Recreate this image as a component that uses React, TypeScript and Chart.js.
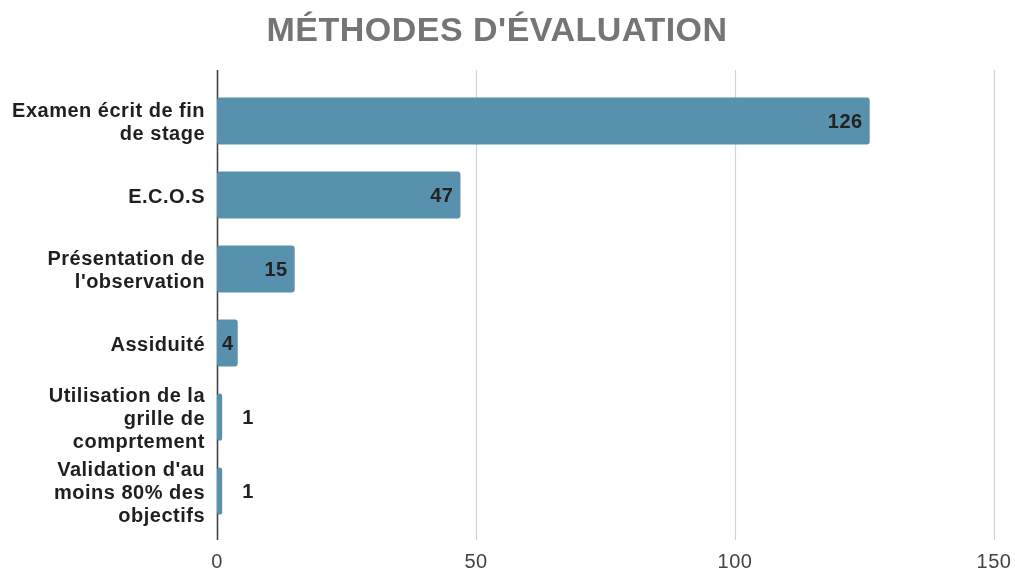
import React, { useEffect, useRef } from "react";
import { Chart, registerables } from "chart.js";

Chart.register(...registerables);

const titleText = "MÉTHODES D'ÉVALUATION";
const categories: string[][] = [
  ["Examen écrit de fin", "de stage"],
  ["E.C.O.S"],
  ["Présentation de", "l'observation"],
  ["Assiduité"],
  ["Utilisation de la", "grille de", "comprtement"],
  ["Validation d'au", "moins 80% des", "objectifs"],
];
const values: number[] = [126, 47, 15, 4, 1, 1];
const xTicks: number[] = [0, 50, 100, 150];

const BAR_COLOR = "#5891ae";
const FAMILY = "'Liberation Sans', Arial, sans-serif";
const LABEL_FONT = `bold 20px ${FAMILY}`;
const SPACING = "0.5px";

const spacingPlugin = {
  id: "letterSpacing",
  beforeUpdate(chart: any) {
    chart.ctx.letterSpacing = SPACING;
  },
  beforeDraw(chart: any) {
    chart.ctx.letterSpacing = SPACING;
  },
};

const gridPlugin = {
  id: "customGrid",
  beforeDatasetsDraw(chart: any) {
    const { ctx, chartArea } = chart;
    const xs = chart.scales.x;
    ctx.save();
    xTicks.forEach((v) => {
      const px = Math.round(xs.getPixelForValue(v)) + 0.5;
      ctx.beginPath();
      ctx.strokeStyle = v === 0 ? "#444444" : "#d3d3d3";
      ctx.lineWidth = v === 0 ? 1.6 : 1.2;
      ctx.moveTo(px, chartArea.top - 14);
      ctx.lineTo(px, chartArea.bottom + 12);
      ctx.stroke();
    });
    ctx.restore();
  },
};

const valueLabelPlugin = {
  id: "valueLabels",
  afterDatasetsDraw(chart: any) {
    const { ctx } = chart;
    const meta = chart.getDatasetMeta(0);
    ctx.save();
    ctx.font = LABEL_FONT;
    ctx.fillStyle = "#222222";
    ctx.textBaseline = "middle";
    meta.data.forEach((bar: any, i: number) => {
      const text = String(values[i]);
      const w = ctx.measureText(text).width;
      const barW = bar.x - bar.base;
      if (barW > w + 6) {
        ctx.textAlign = "right";
        ctx.fillText(text, bar.x - (barW > w + 20 ? 7 : 4), bar.y + 1);
      } else {
        ctx.textAlign = "left";
        ctx.fillText(text, bar.x + 20, bar.y + 1);
      }
    });
    ctx.restore();
  },
};

export default function App() {
  const ref = useRef<HTMLCanvasElement | null>(null);
  useEffect(() => {
    if (!ref.current) return;
    const chart = new Chart(ref.current, {
      type: "bar",
      data: {
        labels: categories,
        datasets: [
          {
            data: values,
            backgroundColor: BAR_COLOR,
            borderRadius: 3,
            borderSkipped: false,
            categoryPercentage: 1,
            barPercentage: 0.635,
          },
        ],
      },
      options: {
        indexAxis: "y",
        animation: false,
        responsive: false,
        maintainAspectRatio: false,
        layout: { padding: { left: 0, right: 21, top: 0, bottom: 0 } },
        plugins: {
          legend: { display: false },
          tooltip: { enabled: false },
          title: {
            display: true,
            text: titleText,
            color: "#757575",
            font: { family: FAMILY, size: 34, weight: "bold", lineHeight: 1.2 },
            padding: { top: 11.5, bottom: 31.7 },
          },
        },
        scales: {
          x: {
            type: "linear",
            min: 0,
            max: 150,
            afterBuildTicks(scale: any) {
              scale.ticks = xTicks.map((v) => ({ value: v }));
            },
            afterFit(scale: any) {
              scale.height = 46;
              scale.paddingLeft = 0;
              scale.paddingRight = 0;
            },
            grid: { display: false, drawTicks: false },
            border: { display: false },
            ticks: {
              color: "#444444",
              padding: 22.5,
              font: { family: FAMILY, size: 20 },
            },
          },
          y: {
            afterFit(scale: any) {
              scale.width = 217;
              scale.paddingTop = 0;
              scale.paddingBottom = 0;
            },
            grid: { display: false, drawTicks: false },
            border: { display: false },
            ticks: {
              color: "#1f1f1f",
              padding: 12,
              labelOffset: 2,
              font: { family: FAMILY, size: 20, weight: "bold", lineHeight: 1.15 },
            },
          },
        },
      },
      plugins: [spacingPlugin, gridPlugin, valueLabelPlugin],
    } as any);
    return () => chart.destroy();
  }, []);
  return (
    <div style={{ position: "absolute", left: 0, top: 0, width: 1015, height: 574, background: "#fff" }}>
      <canvas ref={ref} width={1015} height={574} style={{ display: "block" }} />
    </div>
  );
}
